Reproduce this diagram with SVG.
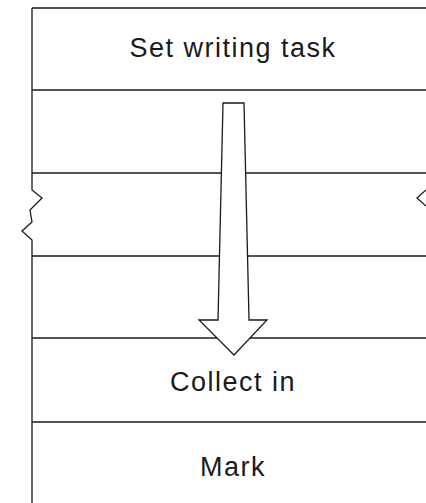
<svg xmlns="http://www.w3.org/2000/svg" width="426" height="503" viewBox="0 0 426 503">
<style>
.ln{fill:none;stroke:#1a1a1a;stroke-width:1.3;stroke-linejoin:miter}
.lbl{font-family:"Liberation Sans",Arial,sans-serif;font-size:27px;fill:#1a1a1a;text-anchor:middle;letter-spacing:1.5px}
</style>
<rect width="426" height="503" fill="#fff"/>
<g id="frame">
<path class="ln" d="M32,8 L32,190 L42,198 L30,210 L32,222 L22,231 L32,240 L32,503"/>
<path class="ln" d="M426,190 L417,198 L426,206"/>
</g>
<g id="row-set-writing-task">
<line class="ln" x1="32" y1="8" x2="426" y2="8"/>
<text class="lbl" x="233" y="57">Set writing task</text>
</g>
<g id="row-2">
<line class="ln" x1="32" y1="90" x2="426" y2="90"/>
</g>
<g id="row-3">
<line class="ln" x1="32" y1="173" x2="426" y2="173"/>
</g>
<g id="row-4">
<line class="ln" x1="32" y1="256" x2="426" y2="256"/>
</g>
<g id="row-collect-in">
<line class="ln" x1="32" y1="338" x2="426" y2="338"/>
<text class="lbl" x="233" y="391">Collect in</text>
</g>
<g id="row-mark">
<line class="ln" x1="32" y1="422" x2="426" y2="422"/>
<text class="lbl" x="233" y="476">Mark</text>
</g>
<g id="connectors">
<path d="M223,103 L244,103 L249,320 L267,320 L234,355 L199,320 L218,320 Z" fill="#fff" stroke="#1a1a1a" stroke-width="1.3"/>
</g>
</svg>
